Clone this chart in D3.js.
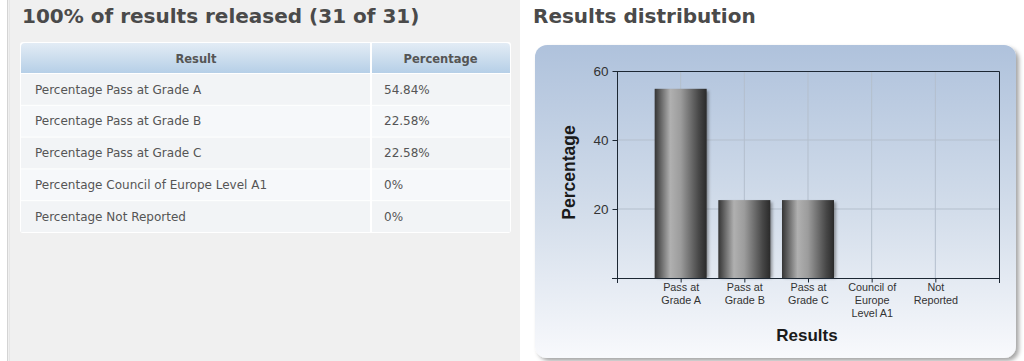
<!DOCTYPE html>
<html>
<head>
<meta charset="utf-8">
<script src="https://cdn.jsdelivr.net/npm/d3@7"></script>
<style>
  html, body { margin: 0; padding: 0; background: #ffffff; }
  svg { display: block; }
</style>
</head>
<body>
<svg id="page" width="1024" height="361"></svg>
<script>
// ---- data ----
const tableHeaders = ["Result", "Percentage"];
const tableResults = [
  "Percentage Pass at Grade A",
  "Percentage Pass at Grade B",
  "Percentage Pass at Grade C",
  "Percentage Council of Europe Level A1",
  "Percentage Not Reported"
];
const tablePercents = ["54.84%", "22.58%", "22.58%", "0%", "0%"];
const categories = [
  ["Pass at", "Grade A"],
  ["Pass at", "Grade B"],
  ["Pass at", "Grade C"],
  ["Council of", "Europe", "Level A1"],
  ["Not", "Reported"]
];
const values = [54.84, 22.58, 22.58, 0, 0];
const yTicks = [0, 20, 40, 60];
const leftTitle = "100% of results released (31 of 31)";
const rightTitle = "Results distribution";
const xTitle = "Results";
const yTitle = "Percentage";

// ---- drawing ----
const svg = d3.select("#page");
const defs = svg.append("defs");

const hg = defs.append("linearGradient").attr("id", "hdr").attr("x1", 0).attr("y1", 0).attr("x2", 0).attr("y2", 1);
hg.append("stop").attr("offset", "0%").attr("stop-color", "#e3ecf5");
hg.append("stop").attr("offset", "100%").attr("stop-color", "#b6cfe7");

const pg = defs.append("linearGradient").attr("id", "panel").attr("x1", 0).attr("y1", 0).attr("x2", 0).attr("y2", 1);
pg.append("stop").attr("offset", "0%").attr("stop-color", "#afc2dc");
pg.append("stop").attr("offset", "55%").attr("stop-color", "#d4deeb");
pg.append("stop").attr("offset", "100%").attr("stop-color", "#f8f9fc");

const bg = defs.append("linearGradient").attr("id", "bar").attr("x1", 0).attr("y1", 0).attr("x2", 1).attr("y2", 0);
[["0%", "#353535"], ["8%", "#555555"], ["30%", "#b0b0b0"], ["50%", "#9c9c9c"], ["85%", "#474747"], ["100%", "#2a2a2a"]]
  .forEach(([o, c]) => bg.append("stop").attr("offset", o).attr("stop-color", c));

const sh = defs.append("filter").attr("id", "shadow").attr("x", "-5%").attr("y", "-5%").attr("width", "115%").attr("height", "115%");
sh.append("feDropShadow").attr("dx", 3).attr("dy", 3).attr("stdDeviation", 2).attr("flood-color", "#000").attr("flood-opacity", 0.35);

const bsh = defs.append("filter").attr("id", "bshadow").attr("x", "-20%").attr("y", "-5%").attr("width", "150%").attr("height", "115%");
bsh.append("feGaussianBlur").attr("stdDeviation", 1.5);

// left panel
svg.append("rect").attr("x", 8).attr("y", 0).attr("width", 512).attr("height", 361).attr("fill", "#f0f0f0");
svg.append("line").attr("x1", 7.5).attr("x2", 7.5).attr("y1", 0).attr("y2", 361).attr("stroke", "#d4d4d4");
svg.append("line").attr("x1", 9.5).attr("x2", 9.5).attr("y1", 0).attr("y2", 361).attr("stroke", "#e6e6e6");

// titles
svg.append("text").attr("x", 22).attr("y", 23).text(leftTitle)
  .attr("font-family", "DejaVu Sans, Verdana, sans-serif").attr("font-weight", "bold")
  .attr("font-size", 20).attr("fill", "#4a4a4a");
svg.append("text").attr("x", 533).attr("y", 23).text(rightTitle)
  .attr("font-family", "DejaVu Sans, Verdana, sans-serif").attr("font-weight", "bold")
  .attr("font-size", 20).attr("fill", "#4a4a4a");

// table
const tX0 = 21, tX1 = 371, tX2 = 510;
const hdrTop = 43, hdrBot = 73;
const rowScale = d3.scaleBand().domain(d3.range(tableResults.length)).range([hdrBot, 232]);
const tbl = svg.append("g");
tbl.append("rect").attr("x", tX0 - 1).attr("y", hdrTop - 1).attr("width", tX2 - tX0 + 2).attr("height", 232 - hdrTop + 2)
  .attr("fill", "#ffffff").attr("rx", 3);
tbl.append("path")
  .attr("d", `M${tX0},${hdrBot} V${hdrTop + 4} Q${tX0},${hdrTop} ${tX0 + 4},${hdrTop} H${tX2 - 4} Q${tX2},${hdrTop} ${tX2},${hdrTop + 4} V${hdrBot} Z`)
  .attr("fill", "url(#hdr)");
tbl.append("line").attr("x1", tX1).attr("x2", tX1).attr("y1", hdrTop).attr("y2", 232).attr("stroke", "#ffffff").attr("stroke-width", 2);
tbl.selectAll("text.hdr").data(tableHeaders).join("text").attr("class", "hdr")
  .attr("x", (d, i) => i === 0 ? (tX0 + tX1) / 2 : (tX1 + tX2) / 2)
  .attr("y", 63).attr("text-anchor", "middle")
  .attr("font-family", "DejaVu Sans, Verdana, sans-serif").attr("font-weight", "bold")
  .attr("font-size", 11.5).attr("fill", "#555").text(d => d);

const rows = tbl.selectAll("g.row").data(tableResults).join("g").attr("class", "row");
rows.append("rect").attr("x", tX0).attr("y", (d, i) => rowScale(i) + 1)
  .attr("width", tX1 - tX0 - 1).attr("height", rowScale.bandwidth() - 1)
  .attr("fill", (d, i) => i % 2 === 0 ? "#f2f4f6" : "#f6f8fa");
rows.append("rect").attr("x", tX1 + 1).attr("y", (d, i) => rowScale(i) + 1)
  .attr("width", tX2 - tX1 - 1).attr("height", rowScale.bandwidth() - 1)
  .attr("fill", (d, i) => i % 2 === 0 ? "#f2f4f6" : "#f6f8fa");
rows.append("text").attr("x", 35).attr("y", (d, i) => rowScale(i) + 20.5)
  .attr("font-family", "DejaVu Sans, Verdana, sans-serif").attr("font-size", 12)
  .attr("fill", "#555").text(d => d);
rows.append("text").attr("x", 384).attr("y", (d, i) => rowScale(i) + 20.5)
  .attr("font-family", "DejaVu Sans, Verdana, sans-serif").attr("font-size", 12)
  .attr("fill", "#555").text((d, i) => tablePercents[i]);

// chart panel
svg.append("rect").attr("x", 535).attr("y", 45).attr("width", 481).attr("height", 313).attr("rx", 12)
  .attr("fill", "url(#panel)").attr("filter", "url(#shadow)");

const plot = { left: 617, right: 999, top: 71, bottom: 278 };
const x = d3.scaleLinear().domain([0, categories.length + 1]).range([plot.left, plot.right]);
const y = d3.scaleLinear().domain([0, 60]).range([plot.bottom, plot.top]);
const barW = 52;

const g = svg.append("g");
g.selectAll("line.vg").data(categories).join("line").attr("class", "vg")
  .attr("x1", (d, i) => x(i + 1)).attr("x2", (d, i) => x(i + 1))
  .attr("y1", plot.top).attr("y2", plot.bottom).attr("stroke", "#b4bfcd").attr("stroke-width", 1);
g.selectAll("line.hgd").data(yTicks.filter(t => t > 0 && t < 60)).join("line").attr("class", "hgd")
  .attr("x1", plot.left).attr("x2", plot.right).attr("y1", d => y(d)).attr("y2", d => y(d))
  .attr("stroke", "#b4bfcd").attr("stroke-width", 1);

g.selectAll("rect.bs").data(values.filter(v => v > 0)).join("rect").attr("class", "bs")
  .attr("x", (d, i) => x(i + 1) - barW / 2 + 2).attr("y", d => y(d) + 2)
  .attr("width", barW).attr("height", d => y(0) - y(d) - 2)
  .attr("fill", "#333").attr("opacity", 0.45).attr("filter", "url(#bshadow)");
g.selectAll("rect.bar").data(values).join("rect").attr("class", "bar")
  .attr("x", (d, i) => x(i + 1) - barW / 2).attr("y", d => y(d))
  .attr("width", barW).attr("height", d => y(0) - y(d))
  .attr("fill", "url(#bar)");

g.append("path").attr("d", `M${plot.left},${plot.top + 0.5} H${plot.right + 0.5} V${plot.bottom + 5}`)
  .attr("fill", "none").attr("stroke", "#1c2733").attr("stroke-width", 1);

const yAxis = d3.axisLeft(y).tickValues(yTicks).tickSize(5).tickPadding(4)
  .tickFormat(d => d === 0 ? "" : d);
const ya = svg.append("g").attr("transform", `translate(${plot.left + 0.5},0)`).call(yAxis);
ya.select(".domain").attr("stroke", "#1c2733").attr("d", `M0,${plot.top} V${plot.bottom + 5}`);
ya.selectAll(".tick line").attr("stroke", "#1c2733");
ya.selectAll(".tick text").attr("font-family", "Liberation Sans, Arial, sans-serif")
  .attr("font-size", 13.5).attr("fill", "#333");

const xAxis = d3.axisBottom(x).tickValues(d3.range(1, categories.length + 1)).tickSize(4).tickFormat("");
const xa = svg.append("g").attr("transform", `translate(0,${plot.bottom + 0.5})`).call(xAxis);
xa.select(".domain").attr("stroke", "#1c2733").attr("d", `M${plot.left - 5},0 H${plot.right}`);
xa.selectAll(".tick line").attr("stroke", "#1c2733");
xa.selectAll(".tick").each(function(d) {
  const lines = categories[d - 1];
  const t = d3.select(this).append("text").attr("text-anchor", "middle")
    .attr("font-family", "Liberation Sans, Arial, sans-serif").attr("font-size", 10.8).attr("fill", "#333");
  lines.forEach((l, k) => t.append("tspan").attr("x", 0).attr("y", 12.5 + k * 13).text(l));
});

svg.append("text").attr("x", (plot.left + plot.right) / 2 - 1).attr("y", 341).attr("text-anchor", "middle")
  .attr("font-family", "Liberation Sans, Arial, sans-serif").attr("font-weight", "bold")
  .attr("font-size", 17).attr("fill", "#1a1a1a").text(xTitle);
svg.append("text").attr("transform", `translate(575,${(plot.top + plot.bottom) / 2 - 2}) rotate(-90)`)
  .attr("text-anchor", "middle")
  .attr("font-family", "Liberation Sans, Arial, sans-serif").attr("font-weight", "bold")
  .attr("font-size", 17.5).attr("fill", "#1a1a1a").text(yTitle);
</script>
</body>
</html>
